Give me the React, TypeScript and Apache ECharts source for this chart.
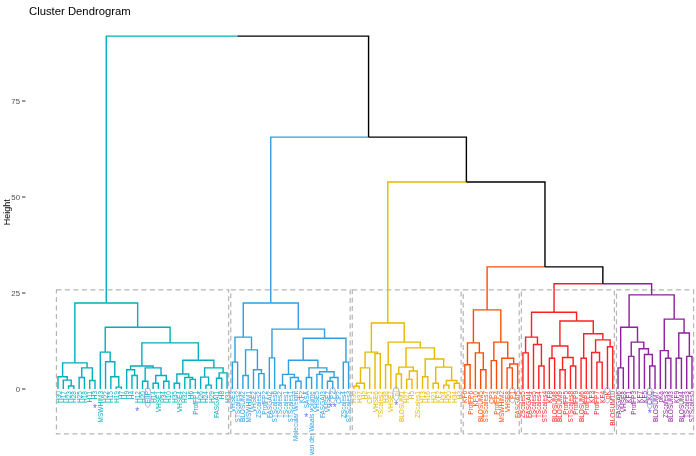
import React, { useEffect, useRef } from "react";
import * as echarts from "echarts";

type Tree = string | [Tree, Tree, number];

const chartTitle = "Cluster Dendrogram";
const yAxisName = "Height";
const yTicks = [0, 25, 50, 75];
const yMax = 92;
const clusterColors = ["#00AFBB", "#2E9FDF", "#E7B800", "#FC4E07", "#FF1F1F", "#8E1F9E"];

// cluster sub-trees: [left, right, merge height]; leaves are labels
const cyanTree: Tree = [
  [["H30", ["H17", ["H23", "H28", 0.8], 2.3], 3.2], [["H25", "H18", 3.0], ["H11", "H3", 2.2], 5.5], 6.8],
  [
    ["MSWHIM3", ["H22", ["H15", ["H19", "H7", 0.5], 3.2], 7.1], 9.6],
    [
      [["H9", ["H4", "H12", 3.5], 5.0], [["H20", "EIIP", 2.0], [["H14", "VHSE1", 1.5], ["H34", "H10", 2.0], 3.5], 5.5], 6.0],
      [[["H35", "VHSE4", 1.5], ["H32", ["H6", "ProfFP1", 2.5], 3.0], 3.9], [["H26", ["H24", "H29", 1.0], 3.1], [["FASGAI1", "H8", 2.8], "H31", 4.2], 5.5], 7.5],
      12.0,
    ],
    16.1,
  ],
  22.4,
];

const blueTree: Tree = [
  [["VHSE3", "STScales2", 7.0], [["BLOSUM2", "MSWHIM1", 3.5], ["VHSE2", ["ZScales2", "ProfFP2", 4.0], 5.0], 10.2], 13.5],
  [
    ["FASGAI2", "STScales6", 8.1],
    [
      [
        [["TScales2", "TScales1", 1.0], ["STScales1", ["Molecular Weight", "KF2", 2.0], 3.0], 3.8],
        [["SASA", "van der Waals volume", 3.0], [["VHSE5", "FASGAI3", 3.8], [["VHSE7", "P2", 2.0], "CP2", 3.0], 4.5], 5.5],
        7.5,
      ],
      ["ZScales4", "STScales3", 7.0],
      13.2,
    ],
    15.6,
  ],
  22.4,
];

const yellowTree: Tree = [
  [[[["H36", "H37", 0.7], "H2", 1.5], "CP1", 5.5], ["VHSE6", "TScales2", 9.2], 9.6],
  [
    ["H38", "VHSE7", 6.3],
    [
      [["pI", "BLOSUM1", 3.9], [["H27", "H5", 2.5], "ZScales1", 4.7], 5.7],
      [["H13", "H16", 3.2], [["H21", "KF2", 1.5], [["H24", "H20", 1.0], ["H34", "H3", 1.5], 2.2], 5.7], 7.8],
      10.7,
    ],
    12.2,
  ],
  17.2,
];

const orangeTree: Tree = [
  [["KF6", "ProfFP6", 6.3], ["KF10", ["BLOSUM5", "STScales7", 5.0], 9.4], 12.0],
  [["CP3", "ProfFP4", 7.4], ["MSWHIM2", [["VHSE8", "P1", 5.5], "FASGAI5", 6.5], 8.0], 12.2],
  20.6,
];

const redTree: Tree = [
  [["ZScales5", "FASGAI4", 9.4], ["TScales5", ["TScales4", "STScales4", 6.0], 11.6], 13.5],
  [
    [["KF8", "BLOSUM8", 8.0], [["BLOSUM9", "ProfFP5", 5.0], ["STScales8", "ProfFP9", 6.0], 8.2], 11.2],
    [["BLOSUM6", "ProfFP8", 8.0], [["KF3", ["ProfFP7", "KF4", 7.0], 9.5], ["pK", "BLOSUM10", 11.0], 12.8], 14.4],
    17.7,
  ],
  20.0,
];

const purpleTree: Tree = [
  [["FASGAI6", "VHSE8", 5.5], [["KF1", "ProfFP3", 8.5], ["KF7", ["KF5", ["CKC", "BLOSUM7", 6.0], 9.0], 10.5], 12.2], 16.1],
  [["pKa", ["ZScales3", "BLOSUM3", 8.0], 10.0], [["KF9", "BLOSUM4", 8.0], ["TScales3", "STScales5", 8.5], 14.6], 18.2],
  24.5,
];

const clusterTrees: Tree[] = [cyanTree, blueTree, yellowTree, orangeTree, redTree, purpleTree];

// merges above the clusters: c# = cluster top, m# = earlier merge
const upperMerges: [string, string, number][] = [
  ["c4", "c5", 27.4],
  ["c3", "m0", 31.8],
  ["c2", "m1", 53.9],
  ["c1", "m2", 65.6],
  ["c0", "m3", 91.9],
];

const rectTop = 25.8;
const rectBottom = -11.7;

const starLeaves = ["H3", "H12", "SASA", "P2", "pI", "CKC"];
const starMarks = ["*", "*", "*", "**", "*", "*"];
const ellipseLeaves = ["EIIP", "P2", "pI", "P1", "pK", "CKC"];

// ---- build layout from the data ----
const leafLabels: string[] = [];
const leafCluster: number[] = [];
const segments: number[][] = [];

function walk(t: Tree, c: number): { x: number; h: number } {
  if (typeof t === "string") {
    leafLabels.push(t);
    leafCluster.push(c);
    return { x: leafLabels.length - 1, h: 0 };
  }
  const l = walk(t[0], c);
  const r = walk(t[1], c);
  const x = (l.x + r.x) / 2;
  segments.push([x, t[2], l.x, l.h, r.x, r.h, c, c]);
  return { x, h: t[2] };
}

const clusterTops: { x: number; h: number }[] = [];
const clusterRanges: number[][] = [];
clusterTrees.forEach((t, i) => {
  const start = leafLabels.length;
  clusterTops.push(walk(t, i));
  clusterRanges.push([start, leafLabels.length - 1]);
});

const mergeNodes: { x: number; h: number }[] = [];
upperMerges.forEach(([a, b, h]) => {
  const ref = (r: string) =>
    r[0] === "c"
      ? { ...clusterTops[+r.slice(1)], c: +r.slice(1) }
      : { ...mergeNodes[+r.slice(1)], c: -1 };
  const l = ref(a);
  const r = ref(b);
  const x = (l.x + r.x) / 2;
  segments.push([x, h, l.x, l.h, r.x, r.h, l.c, r.c]);
  mergeNodes.push({ x, h });
});

const N = leafLabels.length;
const FONT = "'Liberation Sans', Arial, Helvetica, sans-serif";
const LABEL_SIZE = 6.5;

let measureCtx: CanvasRenderingContext2D | null = null;
function textWidth(s: string): number {
  if (!measureCtx) {
    const cv = document.createElement("canvas");
    measureCtx = cv.getContext("2d");
  }
  if (!measureCtx) return s.length * 3.6;
  measureCtx.font = `${LABEL_SIZE}px 'Liberation Sans'`;
  return measureCtx.measureText(s).width;
}

const annotations: number[][] = [];
starLeaves.forEach((name, i) => {
  const idx = leafLabels.indexOf(name);
  if (idx >= 0) annotations.push([idx, 0, i]);
});
ellipseLeaves.forEach((name, i) => {
  const idx = leafLabels.indexOf(name);
  if (idx >= 0) annotations.push([idx, 1, i]);
});

export default function App() {
  const ref = useRef<HTMLDivElement>(null);
  useEffect(() => {
    if (!ref.current) return;
    const chart = echarts.init(ref.current, undefined, { renderer: "svg" });
    const gridLeft = 55.36;
    const gridRight = 1.36;
    const axisX = 25.5;
    const colorOf = (c: number) => (c < 0 ? "#000000" : clusterColors[c]);
    chart.setOption({
      animation: false,
      title: {
        text: chartTitle,
        left: 24,
        top: 0,
        textStyle: { fontSize: 11.3, fontWeight: "normal", color: "#000", fontFamily: FONT },
      },
      grid: {
        left: gridLeft,
        right: gridRight,
        top: 389 - yMax * 3.84,
        bottom: 456 - 389,
        containLabel: false,
        outerBoundsMode: "none",
      },
      xAxis: [
        { type: "value", min: -0.5, max: N - 0.5, show: false },
        {
          type: "category",
          data: leafLabels,
          position: "bottom",
          axisLine: { show: false },
          axisTick: { show: false },
          splitLine: { show: false },
          axisLabel: {
            interval: 0,
            rotate: 90,
            fontSize: LABEL_SIZE,
            margin: 2,
            fontFamily: FONT,
            color: (_v: any, i: number) => clusterColors[leafCluster[i]],
          },
        },
      ],
      yAxis: {
        type: "value",
        min: 0,
        max: yMax,
        offset: gridLeft - axisX,
        name: yAxisName,
        nameLocation: "middle",
        nameGap: 14.5,
        nameMoveOverlap: false,
        nameTextStyle: { fontSize: 9, color: "#000", fontFamily: FONT },
        axisLine: { show: false },
        axisTick: { show: false },
        axisLabel: {
          customValues: yTicks,
          fontSize: 7.8,
          color: "#4D4D4D",
          margin: 5.5,
          fontFamily: FONT,
          formatter: (v: number) => (yTicks.indexOf(v) >= 0 ? String(v) : ""),
        },
        splitLine: { show: false },
      },
      series: [
        {
          type: "custom",
          xAxisIndex: 0,
          yAxisIndex: 0,
          silent: true,
          clip: false,
          data: yTicks.map((v) => [-0.5, v]),
          renderItem: (_p: any, api: any) => {
            const p = api.coord([api.value(0), api.value(1)]);
            return {
              type: "line",
              shape: { x1: axisX - 3.5, y1: p[1], x2: axisX, y2: p[1] },
              style: { stroke: "#333333", lineWidth: 1 },
            };
          },
        },
        {
          type: "custom",
          xAxisIndex: 0,
          yAxisIndex: 0,
          silent: true,
          clip: false,
          data: clusterRanges.map((r) => [r[0] - 0.3, r[1] + 0.3]),
          renderItem: (_p: any, api: any) => {
            const a = api.coord([api.value(0), rectTop]);
            const b = api.coord([api.value(1), rectBottom]);
            return {
              type: "rect",
              shape: { x: a[0], y: a[1], width: b[0] - a[0], height: b[1] - a[1] },
              style: { fill: null, stroke: "#B5B5B5", lineWidth: 1.2, lineDash: [5, 3.5] },
            };
          },
        },
        {
          type: "custom",
          xAxisIndex: 0,
          yAxisIndex: 0,
          silent: true,
          clip: false,
          data: segments,
          renderItem: (_p: any, api: any) => {
            const nx = api.value(0), nh = api.value(1);
            const lx = api.value(2), lh = api.value(3);
            const rx = api.value(4), rh = api.value(5);
            const lc = api.value(6), rc = api.value(7);
            const P = (x: number, y: number) => api.coord([x, y]);
            return {
              type: "group",
              children: [
                {
                  type: "polyline",
                  shape: { points: [P(lx, lh), P(lx, nh), P(nx, nh)] },
                  style: { stroke: colorOf(lc), lineWidth: 1.4, fill: null },
                },
                {
                  type: "polyline",
                  shape: { points: [P(nx, nh), P(rx, nh), P(rx, rh)] },
                  style: { stroke: colorOf(rc), lineWidth: 1.4, fill: null },
                },
              ],
            };
          },
        },
        {
          type: "custom",
          xAxisIndex: 1,
          yAxisIndex: 0,
          silent: true,
          clip: false,
          data: annotations,
          renderItem: (_p: any, api: any) => {
            const idx = api.value(0);
            const kind = api.value(1);
            const k = api.value(2);
            const p = api.coord([idx, 0]);
            const tw = textWidth(leafLabels[idx]);
            if (kind === 0) {
              return {
                type: "text",
                style: {
                  text: starMarks[k],
                  x: p[0],
                  y: p[1] + 2 + tw + 4,
                  fill: "#6A6AFF",
                  fontSize: 10,
                  fontFamily: FONT,
                  align: "center",
                  verticalAlign: "top",
                },
              };
            }
            return {
              type: "ellipse",
              shape: { cx: p[0], cy: p[1] + 2 + tw / 2, rx: 3.2, ry: tw / 2 + 4 },
              style: { fill: null, stroke: "#9AA0D0", lineWidth: 0.9 },
            };
          },
        },
      ],
    });
    return () => chart.dispose();
  }, []);
  return <div ref={ref} style={{ position: "fixed", left: 0, top: 0, width: 696, height: 456 }} />;
}
